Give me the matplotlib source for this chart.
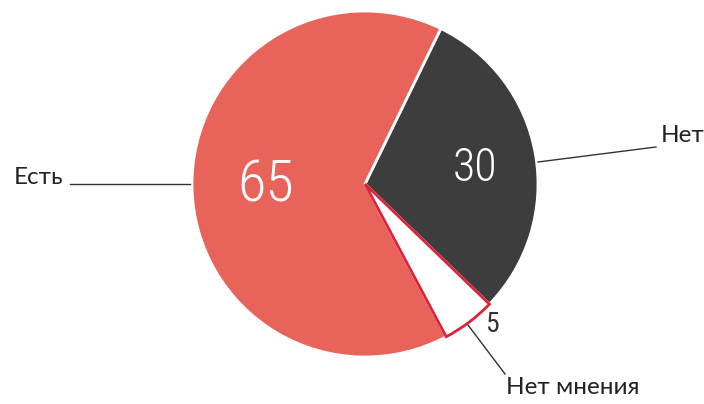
import matplotlib
matplotlib.use("Agg")
import matplotlib.pyplot as plt
from matplotlib import font_manager

labels = ["Нет", "Нет мнения", "Есть"]
values = [30, 5, 65]
colors = ["#3d3d3d", "#ffffff", "#e8645a"]


def condensed(weight):
    # pick a condensed face for the numbers if one is installed
    for fam, stretch in [("Roboto Condensed", "normal"),
                         ("Liberation Sans Narrow", "normal"),
                         ("DejaVu Sans", "condensed"),
                         ("Noto Sans", "condensed"),
                         ("Roboto", "condensed")]:
        fp = font_manager.FontProperties(family=fam, stretch=stretch, weight=weight)
        try:
            path = font_manager.findfont(fp, fallback_to_default=False)
        except Exception:
            continue
        low = path.lower()
        if "condensed" in low or "narrow" in low:
            return font_manager.FontProperties(fname=path)
    return font_manager.FontProperties(family="DejaVu Sans")


light = condensed("light")
regular = condensed("normal")

fig = plt.figure(figsize=(7.04, 4.04), dpi=100)
ax = fig.add_axes([0, 0, 1, 1])
ax.set_aspect("equal")
ax.axis("off")

cx, cy, r = 365, 220, 173
wedges, _ = ax.pie(values, colors=colors, center=(cx, cy), radius=r,
                   startangle=64, counterclock=False,
                   wedgeprops=dict(edgecolor="white", linewidth=2))
ax.set_xlim(0, 704)
ax.set_ylim(0, 404)

# the "no opinion" slice: white with red outline, drawn on top
w = wedges[1]
w.set_edgecolor("#d9243a")
w.set_linewidth(2)
w.set_zorder(3)


def num(x, y, s, size, color, props):
    fp = props.copy()
    fp.set_size(size)
    ax.text(x, y, s, color=color, fontproperties=fp, ha="center", va="center")


num(266, 218, "65", 42, "white", light)
num(475, 236, "30", 33, "white", light)
num(492, 79, "5", 20, "#333333", regular)

# category labels and leader lines
lab_font = "Lato"
ax.plot([70, 190], [220, 220], color="#333333", lw=1)
ax.text(14, 226, "Есть", fontsize=17.5, family=lab_font, color="#222222",
        ha="left", va="center")

ax.plot([538, 656], [242, 257], color="#333333", lw=1)
ax.text(661, 268, "Нет", fontsize=17.5, family=lab_font, color="#222222",
        ha="left", va="center")

ax.plot([468, 505], [79, 30], color="#333333", lw=1)
ax.text(506, 16, "Нет мнения", fontsize=17.5, family=lab_font, color="#222222",
        ha="left", va="center")

fig.savefig("out.png", dpi=100)
